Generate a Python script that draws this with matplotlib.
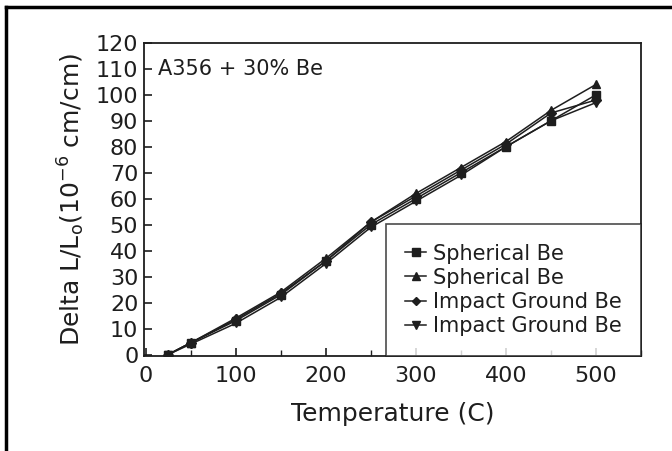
import matplotlib.pyplot as plt
from matplotlib.lines import Line2D
from matplotlib.ticker import MultipleLocator

plt.rcParams['font.family'] = ['DejaVu Sans']

temps = [25, 50, 100, 150, 200, 250, 300, 350, 400, 450, 500]
sph_sq = [0, 4.5, 13, 23, 36, 50, 60, 70, 80, 90, 100]
sph_tri = [0, 4.5, 14, 24, 37, 51, 62, 72, 82, 94, 104]
imp_dia = [0, 4.5, 13.5, 23.5, 36, 51, 61, 71, 81, 93, 98]
imp_down = [0, 4, 12, 22, 35, 49, 59, 69, 80, 90, 97]

labels = ['Spherical Be', 'Spherical Be', 'Impact Ground Be', 'Impact Ground Be']
markers = ['s', '^', 'D', 'v']
ink = '#1e1e1e'

fig = plt.figure(figsize=(6.72, 4.51), dpi=100)
ax = fig.add_axes([0.214, 0.211, 0.740, 0.694])

for ys, m, lab in zip([sph_sq, sph_tri, imp_dia, imp_down], markers, labels):
    ax.plot(temps, ys, color=ink, lw=1.1, marker=m, ms=6 if m != 'D' else 5,
            label=lab)

ax.set_xlim(-2, 550)
ax.set_ylim(-0.5, 120)
ax.xaxis.set_major_locator(MultipleLocator(100))
ax.xaxis.set_minor_locator(MultipleLocator(50))
ax.yaxis.set_major_locator(MultipleLocator(10))
ax.tick_params(direction='in', length=6, width=1.2, labelsize=16,
               colors=ink, pad=4)
ax.tick_params(axis='x', pad=7)
ax.tick_params(which='minor', direction='in', length=4, width=1.0, colors=ink)
for s in ax.spines.values():
    s.set_linewidth(1.3)
    s.set_color(ink)

ax.set_xlabel('Temperature (C)', fontsize=18, color=ink, labelpad=12)
ax.set_ylabel(r'Delta L/L$_\mathregular{o}$(10$^\mathregular{-6}$ cm/cm)',
              fontsize=18, color=ink, labelpad=6)
ax.text(14, 110, 'A356 + 30% Be', fontsize=15, color=ink, va='center')

leg = ax.legend(loc='lower right', bbox_to_anchor=(1, 0), borderaxespad=0,
                fontsize=15, frameon=True, fancybox=False, handlelength=1.0,
                handletextpad=0.3, labelspacing=0.2, borderpad=0.95,
                markerscale=0.9)
leg.get_frame().set_edgecolor(ink)
leg.get_frame().set_linewidth(1.2)
for t in leg.get_texts():
    t.set_color(ink)

# scan border
fig.add_artist(Line2D([6 / 672, 6 / 672], [0, 1 - 7 / 451], color='black',
                      lw=2.5, transform=fig.transFigure))
fig.add_artist(Line2D([6 / 672, 1], [1 - 7 / 451, 1 - 7 / 451], color='black',
                      lw=2.5, transform=fig.transFigure))

fig.savefig('out.png', dpi=100)
